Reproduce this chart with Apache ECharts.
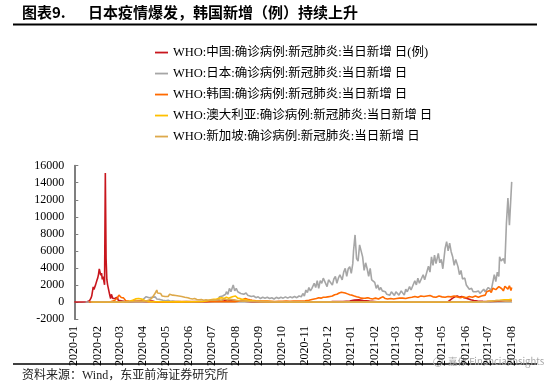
<!DOCTYPE html>
<html>
<head>
<meta charset="utf-8">
<script src="https://cdn.jsdelivr.net/npm/echarts@6/dist/echarts.min.js"></script>
<style>
html,body{margin:0;padding:0;background:#fff;}
#c{width:550px;height:384px;}
</style>
</head>
<body>
<div id="c"></div>
<script>
// ---- data: [day index counted from 2020-01-01, daily new cases] ----
const seriesNames = [
  'WHO:中国:确诊病例:新冠肺炎:当日新增 日(例)',
  'WHO:日本:确诊病例:新冠肺炎:当日新增 日',
  'WHO:韩国:确诊病例:新冠肺炎:当日新增 日',
  'WHO:澳大利亚:确诊病例:新冠肺炎:当日新增 日',
  'WHO:新加坡:确诊病例:新冠肺炎:当日新增 日'
];
const monthLabels = ['2020-01','2020-02','2020-03','2020-04','2020-05','2020-06','2020-07','2020-08','2020-09','2020-10','2020-11','2020-12','2021-01','2021-02','2021-03','2021-04','2021-05','2021-06','2021-07','2021-08'];
const yTicks = [-2000,0,2000,4000,6000,8000,10000,12000,14000,16000];

const chinaCases = [[0,0],[10,0],[17,20],[18,80],[19,150],[20,130],[21,260],[22,440],[23,690],[24,770],[25,1770],[26,1460],[27,1740],[28,1980],[29,2100],[30,2590],[31,2830],[32,3240],[33,3890],[34,3700],[35,3140],[36,3390],[37,2650],[38,2980],[39,2470],[40,2020],[41,15150],[42,5090],[43,2640],[44,2010],[45,2050],[46,1890],[47,750],[48,390],[49,890],[50,650],[51,410],[52,510],[53,410],[54,430],[55,330],[56,430],[57,570],[58,200],[59,130],[60,120],[62,140],[64,100],[67,40],[70,20],[75,30],[80,60],[85,70],[90,60],[95,70],[100,100],[103,110],[106,60],[110,30],[120,10],[140,10],[160,20],[175,30],[185,80],[192,120],[198,150],[203,200],[208,220],[213,180],[218,150],[225,100],[235,40],[260,20],[300,20],[320,25],[340,40],[355,60],[364,120],[370,220],[376,250],[382,180],[390,100],[400,30],[420,20],[460,25],[494,40],[497,250],[500,450],[503,600],[506,700],[509,550],[512,650],[515,500],[518,450],[521,350],[524,250],[528,180],[533,120],[540,80],[550,60],[560,80],[566,120],[570,150],[574,180],[578,160]];

const japanCases = [[15,1],[25,2],[35,5],[42,10],[46,15],[50,20],[53,10],[56,25],[60,15],[63,40],[66,30],[70,50],[73,30],[77,40],[80,60],[84,80],[88,200],[91,300],[93,400],[95,620],[97,820],[99,500],[101,700],[103,550],[105,450],[107,600],[109,350],[111,450],[113,300],[115,350],[117,200],[119,250],[121,150],[124,200],[127,90],[130,100],[134,50],[138,60],[142,30],[148,40],[155,30],[162,50],[168,60],[172,90],[175,100],[178,150],[180,200],[182,130],[184,250],[186,200],[188,350],[190,250],[192,620],[194,450],[196,700],[198,600],[200,900],[201,1210],[203,900],[205,1600],[207,1200],[210,2000],[212,1300],[214,1600],[216,1200],[218,1400],[220,1000],[222,1200],[224,900],[227,1050],[229,800],[231,900],[234,650],[237,700],[240,500],[243,600],[246,400],[249,550],[252,450],[255,550],[258,400],[261,500],[264,350],[267,550],[270,400],[273,550],[276,450],[279,600],[282,450],[285,600],[288,500],[291,650],[294,500],[297,700],[300,600],[302,1000],[304,700],[306,1400],[308,1100],[310,1700],[312,1300],[314,1600],[317,2200],[319,1700],[321,2500],[323,1600],[325,2500],[327,2200],[329,2800],[331,2600],[334,1800],[336,2600],[338,2800],[341,2000],[343,2700],[345,3000],[347,2200],[349,2800],[351,3200],[354,2600],[356,3500],[358,3950],[360,3000],[362,3900],[364,4150],[366,3350],[368,4500],[369,6000],[371,7870],[373,5100],[375,4800],[377,6700],[379,6000],[381,5300],[383,3700],[385,4600],[387,3900],[389,3000],[391,3950],[393,2600],[395,2500],[397,2300],[399,1600],[401,2000],[403,1400],[405,1700],[407,1300],[409,1100],[411,1200],[413,900],[415,1100],[417,800],[419,1200],[421,1000],[423,750],[425,1200],[427,1000],[429,800],[432,1300],[434,1100],[436,800],[438,1500],[440,1200],[443,1800],[445,1400],[447,1200],[450,2500],[452,2000],[454,2800],[456,2200],[458,2000],[461,3200],[463,2600],[465,2500],[468,4200],[470,3500],[472,5300],[474,4300],[476,5500],[478,4500],[481,5700],[483,4600],[485,5000],[487,3900],[490,6300],[492,7080],[494,6000],[496,6900],[498,5900],[500,5300],[502,4300],[504,5000],[507,4150],[509,3200],[511,3700],[513,2700],[516,2800],[518,2000],[520,2000],[522,1500],[525,1600],[527,1200],[529,1400],[531,1200],[534,1300],[536,1000],[538,1100],[541,1500],[543,1200],[545,1400],[547,1700],[549,1800],[551,1400],[553,2300],[555,3200],[557,2400],[559,3500],[561,3000],[562,5300],[564,4800],[567,5100],[569,4500],[571,9200],[573,12200],[575,9000],[578,14100]];

const koreaCases = [[19,1],[30,3],[40,2],[48,20],[50,50],[51,100],[52,230],[53,170],[54,230],[55,140],[56,280],[57,500],[58,570],[59,810],[60,590],[61,600],[62,520],[63,440],[64,520],[65,480],[66,370],[67,250],[68,130],[69,240],[70,110],[72,100],[75,80],[78,100],[82,90],[86,100],[90,100],[94,50],[98,40],[105,20],[115,10],[125,30],[135,40],[145,40],[155,50],[165,50],[175,50],[185,40],[195,40],[205,30],[212,40],[217,100],[220,200],[223,300],[226,400],[229,320],[232,250],[235,200],[240,150],[245,120],[250,100],[255,120],[260,90],[265,60],[270,90],[275,70],[280,100],[285,80],[290,120],[295,100],[300,120],[305,140],[310,200],[314,300],[317,350],[320,400],[323,500],[326,450],[329,550],[332,550],[335,600],[338,650],[341,700],[344,850],[347,900],[350,1050],[353,1150],[355,1210],[358,1050],[361,950],[364,850],[367,800],[370,700],[373,620],[376,550],[379,450],[382,430],[385,450],[388,500],[391,400],[394,350],[398,450],[402,350],[405,500],[408,600],[411,400],[414,350],[418,400],[422,350],[426,400],[430,450],[434,450],[438,400],[442,500],[446,550],[450,650],[454,550],[458,700],[462,650],[466,700],[470,750],[474,600],[478,550],[482,700],[486,600],[490,550],[494,650],[498,600],[502,700],[506,600],[510,500],[514,600],[518,500],[522,650],[526,550],[530,700],[534,550],[538,700],[540,750],[543,800],[545,1200],[547,1250],[549,1350],[551,1100],[553,1600],[555,1500],[557,1450],[559,1250],[561,1800],[563,1800],[565,1550],[567,1300],[569,1850],[571,1650],[573,1500],[575,1900],[577,1350],[578,1700]];

const australiaCases = [[24,1],[40,2],[50,2],[60,10],[65,20],[70,40],[74,100],[77,200],[79,300],[81,360],[83,450],[85,400],[87,280],[89,350],[91,280],[93,180],[95,100],[98,60],[102,30],[110,20],[120,15],[140,10],[160,20],[170,60],[176,150],[180,250],[184,300],[188,350],[192,450],[195,500],[198,400],[201,550],[204,450],[207,550],[210,650],[213,700],[216,450],[219,400],[222,300],[226,250],[230,200],[235,150],[240,100],[245,60],[255,40],[265,20],[280,15],[300,10],[330,15],[360,30],[370,20],[400,10],[450,15],[500,15],[530,20],[545,50],[555,150],[562,200],[568,250],[574,250],[578,300]];

const singaporeCases = [[22,1],[35,5],[45,5],[60,10],[70,20],[80,50],[85,70],[90,60],[95,120],[98,190],[100,290],[102,400],[104,650],[106,900],[108,1100],[109,1400],[110,1050],[112,900],[114,1000],[116,700],[118,900],[120,650],[122,800],[124,650],[126,900],[128,700],[130,800],[132,650],[134,750],[136,600],[138,700],[140,550],[142,650],[144,500],[146,550],[148,450],[150,500],[153,400],[156,350],[159,400],[162,300],[165,250],[168,300],[171,200],[174,250],[178,200],[182,250],[186,200],[190,300],[194,200],[198,350],[202,250],[206,300],[210,250],[214,200],[218,150],[222,100],[226,120],[230,80],[236,50],[245,40],[255,20],[270,15],[300,10],[360,10],[420,15],[490,20],[520,20],[535,30],[545,60],[552,120],[558,180],[564,150],[570,130],[578,100]];

const seriesColors = ['#C8161D','#A6A6A6','#FF6A00','#FFC000','#DDA94B'];

// ---- build chart (x axis = days since 2020-01-01) ----
const DAY = 86400000;
const START = Date.UTC(2020,0,1);
const monthDays = monthLabels.map(m => Math.round((Date.UTC(+m.slice(0,4), +m.slice(5,7)-1, 1) - START) / DAY));
const labelOf = {};
monthDays.forEach((d,i) => { labelOf[d] = monthLabels[i]; });
const allData = [chinaCases, japanCases, koreaCases, australiaCases, singaporeCases];

const serif = "'Liberation Serif','Times New Roman','Noto Sans CJK SC',serif";
const chart = echarts.init(document.getElementById('c'), null, {renderer:'canvas'});
chart.setOption({
  animation: false,
  backgroundColor: '#fff',
  color: seriesColors,
  grid: {left: 74.3, top: 165.7, right: 38.3, bottom: 65},
  legend: {
    orient: 'vertical', left: 150, top: 41.3,
    itemWidth: 13, itemHeight: 14, itemGap: 8.5,
    icon: 'path://M0,0H13V1.8H0Z',
    textStyle: {fontFamily: serif, fontSize: 12.5, color: '#000'},
    data: seriesNames
  },
  xAxis: {
    type: 'value',
    min: monthDays[0], max: monthDays[monthDays.length-1],
    axisLine: {show: true, onZero: true, lineStyle: {color: '#BFBFBF', width: 1}},
    axisTick: {show: false},
    splitLine: {show: false},
    axisLabel: {
      customValues: monthDays,
      rotate: 90, margin: 7,
      showMinLabel: true, showMaxLabel: true, hideOverlap: false,
      fontFamily: serif, fontSize: 12, color: '#000',
      formatter: v => labelOf[Math.round(v)] || ''
    }
  },
  yAxis: {
    type: 'value', min: yTicks[0], max: yTicks[yTicks.length-1], interval: 2000,
    axisLine: {show: true, lineStyle: {color: '#7F7F7F', width: 2}},
    axisTick: {show: true, inside: true, length: 4, lineStyle: {color: '#7F7F7F'}},
    splitLine: {show: false},
    axisLabel: {margin: 10, fontFamily: serif, fontSize: 12, color: '#000', formatter: v => String(v)}
  },
  series: allData.map((d,i) => ({
    name: seriesNames[i], type: 'line', symbol: 'none', showSymbol: false,
    data: d,
    lineStyle: {width: 1.6, color: seriesColors[i]},
    itemStyle: {color: seriesColors[i]},
    emphasis: {disabled: true}
  })),
  graphic: [
    {type: 'text', left: 22, top: 5, style: {text: '图表9.', font: "bold 15px 'Noto Sans CJK SC'", fill: '#000'}},
    {type: 'text', left: 88, top: 5, style: {text: '日本疫情爆发，韩国新增（例）持续上升', font: "bold 15px 'Noto Sans CJK SC'", fill: '#000'}},
    {type: 'line', shape: {x1: 13, y1: 24.5, x2: 537, y2: 24.5}, style: {stroke: '#000', lineWidth: 2}},
    {type: 'line', shape: {x1: 13, y1: 364, x2: 537, y2: 364}, style: {stroke: '#000', lineWidth: 1.5}},
    {type: 'circle', shape: {cx: 438, cy: 362, r: 4.5}, style: {fill: 'none', stroke: '#C0C0C0', lineWidth: 1}},
    {type: 'text', left: 448, top: 357, style: {text: '嘉伟 FinancialInsights', font: "9.5px 'Noto Sans CJK SC'", fill: '#A8A8A8'}},
    {type: 'text', left: 22, top: 370, style: {text: '资料来源：Wind，东亚前海证券研究所', font: "12px 'Liberation Serif','Noto Sans CJK SC'", fill: '#222'}}
  ]
});
</script>
</body>
</html>
